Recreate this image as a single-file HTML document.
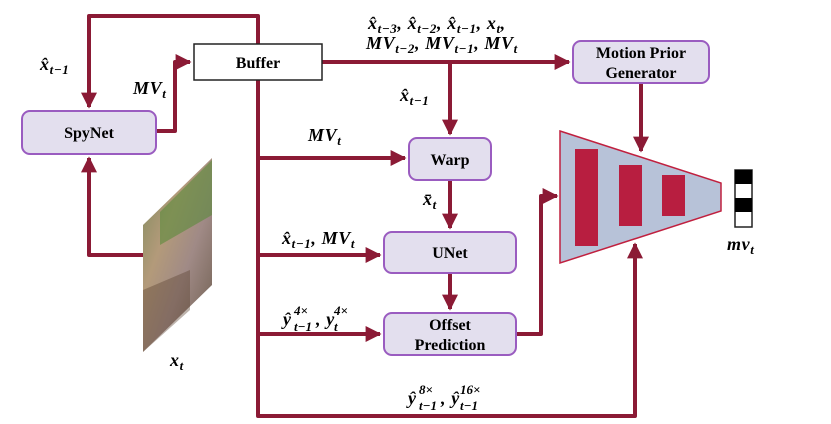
<!DOCTYPE html>
<html><head><meta charset="utf-8"><style>
body{margin:0;background:#fff;}
svg{display:block;}
text{font-family:"Liberation Serif",serif;font-weight:bold;}
.m{font-style:italic;font-size:18px;letter-spacing:0.6px;}
.s{font-style:italic;font-size:13px;font-weight:bold;}
.b{font-size:16px;text-anchor:middle;}
</style></head><body>
<svg width="831" height="424" viewBox="0 0 831 424" xmlns="http://www.w3.org/2000/svg">
<defs>
<marker id="a" viewBox="0 0 10 10" refX="9" refY="5" markerWidth="4" markerHeight="4" orient="auto" markerUnits="strokeWidth"><path d="M0,0L10,5L0,10z" fill="#8b1a35"/></marker>
<linearGradient id="img" x1="0" y1="0" x2="1" y2="1">
<stop offset="0" stop-color="#7a8a5a"/><stop offset="0.35" stop-color="#b39a7a"/><stop offset="0.6" stop-color="#a08a86"/><stop offset="1" stop-color="#6a5a4a"/></linearGradient>
</defs>
<g stroke="#8b1a35" stroke-width="4" fill="none" stroke-linejoin="round">
<polyline points="258,44 258,16 89,16 89,107" marker-end="url(#a)"/>
<polyline points="156,131 175,131 175,62 190,62" marker-end="url(#a)"/>
<polyline points="322,62 569,62" marker-end="url(#a)"/>
<polyline points="450,62 450,134" marker-end="url(#a)"/>
<polyline points="450,180 450,228" marker-end="url(#a)"/>
<polyline points="450,273 450,309" marker-end="url(#a)"/>
<polyline points="258,80 258,416 635,416 635,244" marker-end="url(#a)"/>
<polyline points="258,158 405,158" marker-end="url(#a)"/>
<polyline points="258,255 380,255" marker-end="url(#a)"/>
<polyline points="258,334 380,334" marker-end="url(#a)"/>
<polyline points="516,334 541,334 541,196 557,196" marker-end="url(#a)"/>
<polyline points="641,83 641,151" marker-end="url(#a)"/>
<polyline points="143,255 89,255 89,158" marker-end="url(#a)"/>
</g>
<polygon points="143,225 212,158 212,285 143,352" fill="url(#img)"/>
<polygon points="160,212 212,160 212,215 160,245" fill="#5a8a3a" opacity="0.6"/>
<polygon points="143,290 190,270 190,310 143,352" fill="#5a4030" opacity="0.4"/>
<rect x="194" y="44" width="128" height="36" fill="#fff" stroke="#222" stroke-width="1.5"/>
<text class="b" x="258" y="68">Buffer</text>
<rect x="22" y="111" width="134" height="43" rx="8" fill="#e3dfee" stroke="#9a5cc0" stroke-width="2"/>
<text class="b" x="89" y="138">SpyNet</text>
<rect x="573" y="41" width="136" height="42" rx="8" fill="#e3dfee" stroke="#9a5cc0" stroke-width="2"/>
<text class="b" x="641" y="58">Motion Prior</text><text class="b" x="641" y="78">Generator</text>
<rect x="409" y="138" width="82" height="42" rx="8" fill="#e3dfee" stroke="#9a5cc0" stroke-width="2"/>
<text class="b" x="450" y="165">Warp</text>
<rect x="384" y="232" width="132" height="41" rx="8" fill="#e3dfee" stroke="#9a5cc0" stroke-width="2"/>
<text class="b" x="450" y="258">UNet</text>
<rect x="384" y="313" width="132" height="42" rx="8" fill="#e3dfee" stroke="#9a5cc0" stroke-width="2"/>
<text class="b" x="450" y="330">Offset</text><text class="b" x="450" y="350">Prediction</text>
<polygon points="560,131 721,183 721,211 560,263" fill="#b7c2d8" stroke="#c0203f" stroke-width="1.5"/>
<rect x="575" y="149" width="23" height="97" fill="#b81e40"/>
<rect x="619" y="165" width="23" height="61" fill="#b81e40"/>
<rect x="662" y="175" width="23" height="41" fill="#b81e40"/>
<rect x="735" y="170" width="17" height="57" fill="#fff" stroke="#222" stroke-width="1.5"/>
<rect x="735" y="170" width="17" height="14" fill="#000"/>
<rect x="735" y="198" width="17" height="14" fill="#000"/>
<text class="m" x="727" y="250">mv<tspan class="s" dy="4">t</tspan></text>
<text class="m" x="170" y="366">x<tspan class="s" dy="4">t</tspan></text>
<text class="m" x="40" y="70">x̂<tspan class="s" dy="4">t−1</tspan></text>
<text class="m" x="133" y="94">MV<tspan class="s" dy="4">t</tspan></text>
<text class="m" x="368" y="29">x̂<tspan class="s" dy="4">t−3</tspan><tspan dy="-4">, x̂</tspan><tspan class="s" dy="4">t−2</tspan><tspan dy="-4">, x̂</tspan><tspan class="s" dy="4">t−1</tspan><tspan dy="-4">, x</tspan><tspan class="s" dy="4">t</tspan><tspan dy="-4">,</tspan></text>
<text class="m" x="366" y="49">MV<tspan class="s" dy="4">t−2</tspan><tspan dy="-4">, MV</tspan><tspan class="s" dy="4">t−1</tspan><tspan dy="-4">, MV</tspan><tspan class="s" dy="4">t</tspan></text>
<text class="m" x="400" y="101">x̂<tspan class="s" dy="4">t−1</tspan></text>
<text class="m" x="308" y="141">MV<tspan class="s" dy="4">t</tspan></text>
<text class="m" x="423" y="205">x̄<tspan class="s" dy="4">t</tspan></text>
<text class="m" x="282" y="244">x̂<tspan class="s" dy="4">t−1</tspan><tspan dy="-4">, MV</tspan><tspan class="s" dy="4">t</tspan></text>
<text class="m" x="283" y="325">ŷ</text>
<text class="s" x="294" y="315">4×</text>
<text class="s" x="294" y="331">t−1</text>
<text class="m" x="316" y="325">, y</text>
<text class="s" x="334" y="315">4×</text>
<text class="s" x="334" y="331">t</text>
<text class="m" x="408" y="404">ŷ</text>
<text class="s" x="419" y="394">8×</text>
<text class="s" x="419" y="410">t−1</text>
<text class="m" x="441" y="404">, ŷ</text>
<text class="s" x="460" y="394">16×</text>
<text class="s" x="460" y="410">t−1</text>
</svg>
</body></html>
